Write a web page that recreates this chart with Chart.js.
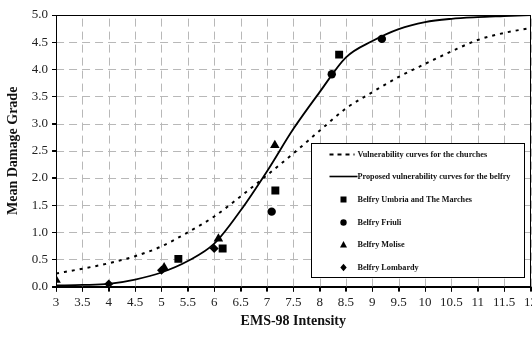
<!DOCTYPE html>
<html>
<head>
<meta charset="utf-8">
<script src="https://cdn.jsdelivr.net/npm/chart.js@4.4.1/dist/chart.umd.min.js"></script>
<style>
html,body{margin:0;padding:0;background:#fff;overflow:hidden;}
#wrap{position:relative;width:540px;height:337px;}
</style>
</head>
<body>
<div id="wrap"><canvas id="c"></canvas></div>
<script>
// ---- data ----
const intensity = [3,3.5,4,4.5,5,5.5,6,6.5,7,7.5,8,8.5,9,9.5,10,10.5,11,11.5,12];
const churches  = [0.24,0.33,0.43,0.56,0.74,1.0,1.29,1.66,2.05,2.45,2.87,3.28,3.58,3.86,4.1,4.33,4.54,4.67,4.76];
const belfry    = [0.02,0.03,0.05,0.13,0.26,0.47,0.79,1.4,2.12,2.9,3.58,4.22,4.52,4.74,4.87,4.93,4.96,4.98,5.0];

const umbriaX   = [5.32,6.16,7.16,8.37];
const umbriaY   = [0.51,0.70,1.77,4.27];
const friuliX   = [7.09,8.23,9.18];
const friuliY   = [1.38,3.91,4.56];
const moliseX   = [3.0,5.05,6.08,7.15];
const moliseY   = [0.12,0.35,0.88,2.6];
const lombardyX = [4.0,5.0,6.0];
const lombardyY = [0.05,0.30,0.70];

const xTicks = intensity;
const yTicks = [0,0.5,1,1.5,2,2.5,3,3.5,4,4.5,5];

const legendLabels = [
  'Vulnerability curves for the churches',
  'Proposed vulnerability curves for the belfry',
  'Belfry Umbria and The Marches',
  'Belfry Friuli',
  'Belfry Molise',
  'Belfry Lombardy'
];

const pts = (xs, ys) => xs.map((x, i) => ({x, y: ys[i]}));

const SERIF = "'Liberation Serif','Times New Roman',serif";
Chart.defaults.font.family = SERIF;
Chart.defaults.color = '#222';

const gridPlugin = {
  id: 'dashGrid',
  beforeDatasetsDraw(chart) {
    const ctx = chart.ctx, a = chart.chartArea, xs = chart.scales.x, ys = chart.scales.y;
    ctx.save();
    ctx.lineWidth = 1;
    ctx.strokeStyle = '#b8b8b8';
    ctx.setLineDash([8, 5]);
    for (const v of xTicks) {
      const px = Math.round(xs.getPixelForValue(v)) + 0.5;
      ctx.beginPath(); ctx.moveTo(px, a.bottom); ctx.lineTo(px, a.top); ctx.stroke();
    }
    for (const v of yTicks) {
      const py = Math.round(ys.getPixelForValue(v)) + 0.5;
      ctx.beginPath(); ctx.moveTo(a.left, py); ctx.lineTo(a.right, py); ctx.stroke();
    }
    ctx.restore();
  },
  afterDraw(chart) {
    const ctx = chart.ctx, a = chart.chartArea, xs = chart.scales.x, ys = chart.scales.y;
    ctx.save();
    ctx.setLineDash([]);
    ctx.lineWidth = 1;
    ctx.strokeStyle = '#000';
    for (const v of xTicks) {
      const px = Math.round(xs.getPixelForValue(v)) + 0.5;
      ctx.beginPath(); ctx.moveTo(px, a.bottom); ctx.lineTo(px, a.bottom + 5); ctx.stroke();
    }
    for (const v of yTicks) {
      const py = Math.round(ys.getPixelForValue(v)) + 0.5;
      ctx.beginPath(); ctx.moveTo(a.left - 4, py); ctx.lineTo(a.left, py); ctx.stroke();
    }
    ctx.strokeRect(Math.round(a.left) + 0.5, Math.round(a.top) + 0.5, Math.round(a.right - a.left), Math.round(a.bottom - a.top));
    ctx.restore();
  }
};

const boxPlugin = {
  id: 'boxAndLegend',
  afterDraw(chart) {
    const ctx = chart.ctx, a = chart.chartArea;
    ctx.save();
    ctx.setLineDash([]);
    const bw = 213, bh = 134;
    const bx = Math.round(a.right - 7 - bw) + 0.5;
    const by = Math.round(a.bottom - 10 - bh) + 0.5;
    ctx.fillStyle = '#fff';
    ctx.fillRect(bx, by, bw, bh);
    ctx.strokeStyle = '#000';
    ctx.lineWidth = 1;
    ctx.strokeRect(bx, by, bw, bh);
    const rowY = [11, 33, 56, 79, 101, 124].map(v => by + v);
    const mx = bx + 32;
    const tx = bx + 46;
    ctx.font = "bold 8.2px " + SERIF;
    ctx.textBaseline = 'middle';
    ctx.fillStyle = '#111';
    legendLabels.forEach((t, i) => ctx.fillText(t, tx, rowY[i]));
    ctx.fillStyle = '#000';
    ctx.strokeStyle = '#000';
    ctx.lineWidth = 2;
    ctx.setLineDash([4, 4]);
    ctx.beginPath(); ctx.moveTo(bx + 18, rowY[0]); ctx.lineTo(bx + 43, rowY[0]); ctx.stroke();
    ctx.setLineDash([]);
    ctx.lineWidth = 1.6;
    ctx.beginPath(); ctx.moveTo(bx + 18, rowY[1]); ctx.lineTo(bx + 46, rowY[1]); ctx.stroke();
    ctx.fillRect(mx - 3, rowY[2] - 3, 6, 6);
    ctx.beginPath(); ctx.arc(mx, rowY[3], 3.2, 0, Math.PI * 2); ctx.fill();
    ctx.beginPath(); ctx.moveTo(mx, rowY[4] - 3.5); ctx.lineTo(mx + 3.5, rowY[4] + 3); ctx.lineTo(mx - 3.5, rowY[4] + 3); ctx.closePath(); ctx.fill();
    ctx.beginPath(); ctx.moveTo(mx, rowY[5] - 3.8); ctx.lineTo(mx + 3.2, rowY[5]); ctx.lineTo(mx, rowY[5] + 3.8); ctx.lineTo(mx - 3.2, rowY[5]); ctx.closePath(); ctx.fill();
    ctx.restore();
  }
};

new Chart(document.getElementById('c'), {
  type: 'line',
  data: {
    datasets: [
      { label: legendLabels[0], data: pts(intensity, churches), borderColor: '#000', borderWidth: 2, borderDash: [3, 5], pointRadius: 0, cubicInterpolationMode: 'monotone', fill: false },
      { label: legendLabels[1], data: pts(intensity, belfry), borderColor: '#000', borderWidth: 1.8, pointRadius: 0, cubicInterpolationMode: 'monotone', fill: false },
      { label: legendLabels[2], data: pts(umbriaX, umbriaY), showLine: false, pointStyle: 'rect', pointRadius: 5.6, backgroundColor: '#000', borderColor: '#000', borderWidth: 0 },
      { label: legendLabels[3], data: pts(friuliX, friuliY), showLine: false, pointStyle: 'circle', pointRadius: 4.2, backgroundColor: '#000', borderColor: '#000', borderWidth: 0 },
      { label: legendLabels[4], data: pts(moliseX, moliseY), showLine: false, pointStyle: 'triangle', pointRadius: 5.5, backgroundColor: '#000', borderColor: '#000', borderWidth: 0 },
      { label: legendLabels[5], data: pts(lombardyX, lombardyY), showLine: false, pointStyle: 'rectRot', pointRadius: 4.5, backgroundColor: '#000', borderColor: '#000', borderWidth: 0 }
    ]
  },
  options: {
    responsive: true,
    maintainAspectRatio: false,
    animation: false,
    layout: { padding: { top: 15, right: 2, left: 5, bottom: 7 } },
    plugins: { legend: { display: false }, tooltip: { enabled: false } },
    scales: {
      x: {
        type: 'linear', min: 3, max: 12,
        afterBuildTicks: s => { s.ticks = xTicks.map(v => ({value: v})); },
        ticks: { callback: v => String(v), font: { size: 13 }, color: '#222', padding: 3, maxRotation: 0, autoSkip: false },
        grid: { drawOnChartArea: false, color: '#000', tickColor: '#000', tickLength: 5, tickWidth: 1 },
        border: { display: true, color: '#000', width: 1 },
        title: { display: true, text: 'EMS-98 Intensity', font: { size: 14, weight: 'bold' }, color: '#111', padding: { top: 0, bottom: 0 } }
      },
      y: {
        min: 0, max: 5,
        afterBuildTicks: s => { s.ticks = yTicks.map(v => ({value: v})); },
        ticks: { callback: v => v.toFixed(1), font: { size: 13 }, color: '#222', padding: 4 },
        grid: { drawOnChartArea: false, color: '#000', tickColor: '#000', tickLength: 4, tickWidth: 1 },
        border: { display: true, color: '#000', width: 1 },
        title: { display: true, text: 'Mean Damage Grade', font: { size: 14, weight: 'bold' }, color: '#111', padding: { top: 0, bottom: 6 } }
      }
    }
  },
  plugins: [gridPlugin, boxPlugin]
});
</script>
</body>
</html>
